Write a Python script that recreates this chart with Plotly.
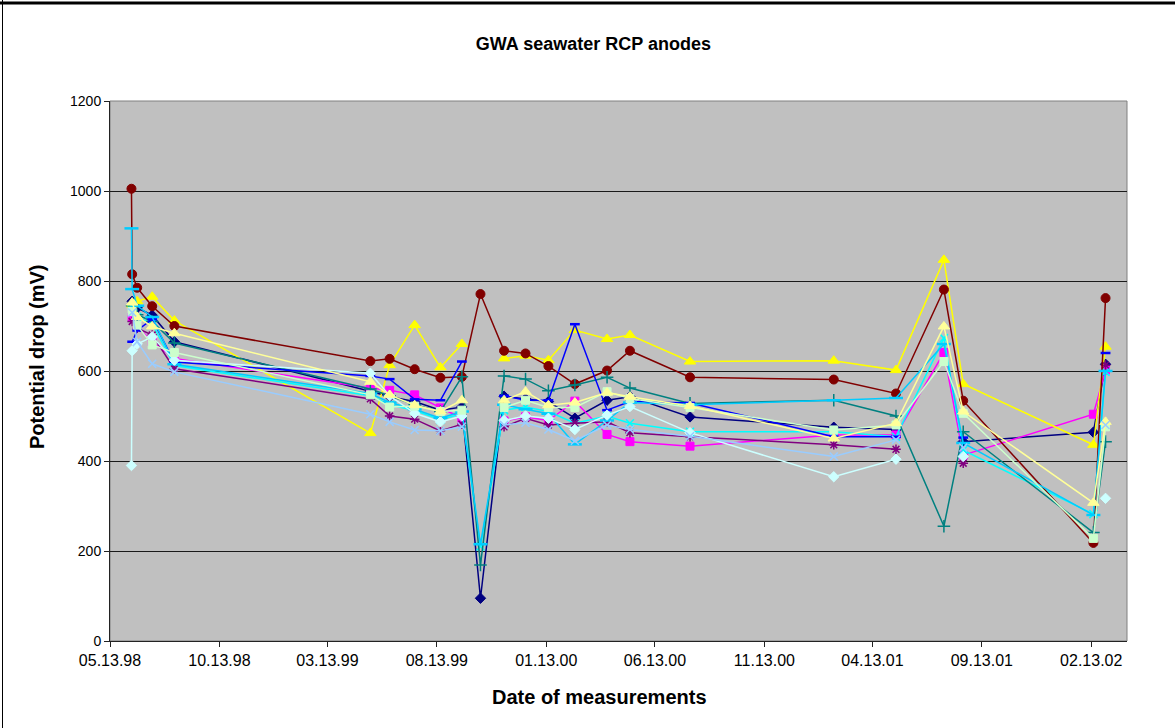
import plotly.graph_objects as go

# Measurement dates (one column shared by all anode series)
dates = [
    "1998-06-12", "1998-06-13", "1998-06-20", "1998-07-11", "1998-08-11",
    "1999-05-12", "1999-06-08", "1999-07-13", "1999-08-18", "1999-09-17",
    "1999-10-13", "1999-11-15", "1999-12-15", "2000-01-16", "2000-02-22",
    "2000-04-07", "2000-05-09", "2000-08-01", "2001-02-18", "2001-05-16",
    "2001-07-22", "2001-08-18", "2002-02-16", "2002-03-05",
]

# Potential drop (mV) per anode; None = no reading that day
anode_1 = [None, 755, 740, 724, 665, 555, 543, 532, 513, 520, 95, 544, 538, 532, 495, 535, 543, 498, 475, 470, None, 443, 464, 615]
anode_2 = [None, 720, 700, 665, 628, 562, 557, 547, 518, 495, None, 489, 498, 490, 533, 459, 443, 433, 458, 458, 641, 413, 504, 602]
anode_3 = [None, 748, 755, 765, 712, 462, 613, 702, 608, 660, None, 628, 634, 624, 691, 671, 680, 621, 623, 602, 847, 571, 436, 654]
anode_4 = [None, 735, 720, 705, 612, 545, 525, 512, 492, 505, 210, 513, 520, 510, 484, 500, 484, 465, 465, 454, 673, 424, 282, 598]
anode_5 = [None, 710, 695, 680, 605, 538, 500, 493, 467, 482, None, 476, 495, 480, 484, 487, 463, 454, 436, 426, None, 395, None, 613]
anode_6 = [1005, 815, 785, 744, 700, 622, 627, 604, 585, 587, 771, 645, 639, 611, 571, 601, 645, 586, 581, 550, 781, 534, 218, 762]
anode_7 = [None, 745, 725, 710, 662, 560, 545, 525, 510, 587, 169, 589, 582, 556, 569, 586, 562, 528, 535, 500, 255, 465, 241, 443]
anode_8 = [None, 665, 690, 715, 620, 589, 582, 537, 535, 621, None, 545, 535, 535, 704, 513, 532, 529, 454, 454, None, 452, None, 640]
anode_9 = [917, 782, 745, 720, 615, 550, 530, 515, 495, 510, 215, 525, 515, 505, 437, 490, 530, 525, 535, 540, 660, 440, 280, 600]
anode_10 = [390, 645, 660, 676, 624, 595, 545, 506, 487, 500, None, 490, 500, 495, 470, 502, 521, 463, 365, 404, None, 410, None, 317]
anode_11 = [None, 732, 702, 658, 641, 547, 520, 522, 510, 513, None, 519, 535, 519, 519, 554, 539, 519, 469, 480, 621, 506, 228, 476]
anode_12 = [None, 752, 720, 699, 684, 576, 547, 524, 510, 535, None, 535, 554, 524, 530, 552, 543, 522, 450, 484, 699, 510, 307, 487]
anode_13 = [None, 730, 665, 616, 598, 504, 487, 469, 467, 476, None, 480, 485, 470, 445, 480, 470, 455, 410, 447, None, 430, None, 480]

series = [
    ("Anode 1", anode_1, "#000080", "diamond", 8),
    ("Anode 2", anode_2, "#FF00FF", "square", 8),
    ("Anode 3", anode_3, "#FFFF00", "triangle-up", 10),
    ("Anode 4", anode_4, "#00FFFF", "x-thin-open", 8),
    ("Anode 5", anode_5, "#800080", "asterisk-open", 8),
    ("Anode 6", anode_6, "#800000", "circle", 9),
    ("Anode 7", anode_7, "#008080", "cross-thin-open", 9),
    ("Anode 8", anode_8, "#0000FF", "line-ew-open", 7),
    ("Anode 9", anode_9, "#00CCFF", "line-ew-open", 10),
    ("Anode 10", anode_10, "#CCFFFF", "diamond", 8),
    ("Anode 11", anode_11, "#CCFFCC", "square", 8),
    ("Anode 12", anode_12, "#FFFF99", "triangle-up", 10),
    ("Anode 13", anode_13, "#99CCFF", "x-thin-open", 8),
]

fig = go.Figure()
for name, vals, color, symbol, size in series:
    open_sym = symbol.endswith("-open")
    fig.add_trace(go.Scatter(
        x=dates, y=vals, name=name, mode="lines+markers",
        connectgaps=False,
        line=dict(color=color, width=1.5),
        marker=dict(symbol=symbol, size=size, color=color,
                    line=dict(color=color, width=2.5 if "line-ew" in symbol else (1.5 if open_sym else 1))),
    ))

FONT = "Liberation Sans, Arial, sans-serif"

fig.update_layout(
    width=1175, height=728,
    margin=dict(l=110, r=48, t=101, b=87),
    paper_bgcolor="white",
    plot_bgcolor="#C0C0C0",
    showlegend=False,
    font=dict(family=FONT, color="black", size=13),
    title=dict(text="<b>GWA seawater RCP anodes</b>", xref="container", x=0.505,
               yref="container", y=0.94, xanchor="center", yanchor="middle",
               font=dict(family=FONT, size=18, color="black")),
    xaxis=dict(
        type="date", range=["1998-05-13", "2002-04-04"],
        tick0="1998-05-13", dtick="M5", tickformat="%m.%d.%y",
        showgrid=False, zeroline=False,
        showline=True, linecolor="#222222", linewidth=1,
        ticks="outside", ticklen=5, tickcolor="#222222",
        tickfont=dict(family=FONT, size=16),
    ),
    yaxis=dict(
        range=[0, 1200], dtick=200, tick0=0,
        showgrid=True, gridcolor="#1a1a1a", gridwidth=1,
        zeroline=False,
        showline=True, linecolor="#222222", linewidth=1,
        ticks="outside", ticklen=5, tickcolor="#222222",
        tickfont=dict(family=FONT, size=14),
    ),
    annotations=[
        dict(text="<b>Date of measurements</b>", xref="paper", yref="paper",
             x=(599 - 110) / 1017, y=(641 - 697) / 540, showarrow=False,
             xanchor="center", yanchor="middle", font=dict(family=FONT, size=20)),
        dict(text="<b>Potential drop (mV)</b>", xref="paper", yref="paper",
             x=(37 - 110) / 1017, y=(641 - 357) / 540, showarrow=False, textangle=-90,
             xanchor="center", yanchor="middle", font=dict(family=FONT, size=20)),
    ],
    shapes=[
        # outer chart frame (top and left edges)
        dict(type="line", xref="paper", yref="paper",
             x0=-110 / 1017, x1=(1175 - 110) / 1017, y0=(641 - 3) / 540, y1=(641 - 3) / 540,
             line=dict(color="black", width=3)),
        dict(type="line", xref="paper", yref="paper",
             x0=(2.5 - 110) / 1017, x1=(2.5 - 110) / 1017, y0=(641 - 0) / 540, y1=(641 - 728) / 540,
             line=dict(color="black", width=1)),
        # plot area border
        dict(type="rect", xref="paper", yref="paper", x0=0, x1=1, y0=0, y1=1,
             line=dict(color="#808080", width=1), layer="below"),
    ],
)

fig.write_html("out.html")
